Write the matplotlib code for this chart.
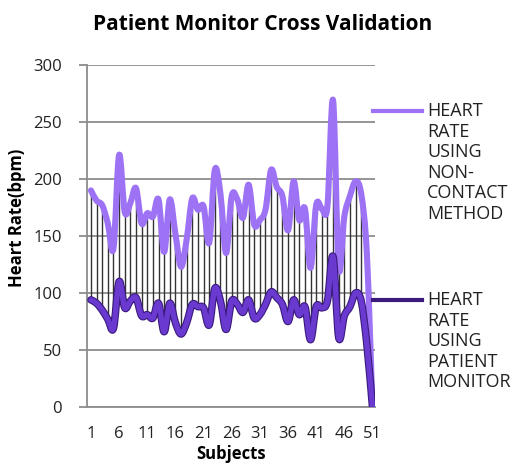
import matplotlib
matplotlib.use('Agg')
import matplotlib.pyplot as plt
import matplotlib.patheffects as pe
from matplotlib.path import Path
from matplotlib.patches import PathPatch
from matplotlib.lines import Line2D
import numpy as np

# Data
subjects = list(range(1, 52))
non_contact = [190, 181, 177, 161, 139, 221, 171, 179, 192, 161,
               170, 167, 182, 136, 182, 152, 123, 147, 183, 173,
               176, 144, 208, 187, 135, 185, 182, 166, 195, 160,
               164, 173, 208, 193, 185, 155, 198, 164, 174, 122,
               177, 174, 176, 269, 122, 167, 185, 198, 187, 135,
               0]
patient_monitor = [94, 91, 85, 77, 69, 110, 87, 93, 96, 80,
                   81, 78, 91, 66, 91, 74, 64, 74, 90, 88,
                   87, 72, 104, 93, 68, 93, 90, 83, 94, 78,
                   81, 90, 101, 96, 90, 75, 94, 81, 88, 59,
                   88, 87, 93, 132, 61, 80, 88, 100, 93, 55,
                   0]
xtick_labels = [str(s) for s in subjects[::5]]

light = '#9d72f4'
dark = '#6a3ad0'
dark_edge = '#3b1a7c'
grid_grey = '#8c8c8c'

plt.rcParams['font.family'] = ['Open Sans', 'DejaVu Sans']


def smooth_path(x, y):
    # Excel style smoothed line: cubic bezier through every point
    n = len(x)
    verts = [(x[0], y[0])]
    codes = [Path.MOVETO]
    for i in range(n - 1):
        a = i - 1 if i > 0 else i
        b = i + 2 if i + 2 < n else i + 1
        c1 = (x[i] + (x[i + 1] - x[a]) / 6.0, y[i] + (y[i + 1] - y[a]) / 6.0)
        c2 = (x[i + 1] - (x[b] - x[i]) / 6.0, y[i + 1] - (y[b] - y[i]) / 6.0)
        verts += [c1, c2, (x[i + 1], y[i + 1])]
        codes += [Path.CURVE4] * 3
    return Path(verts, codes)


fig = plt.figure(figsize=(5.26, 4.68), dpi=100)
ax = fig.add_axes([87 / 526, 1 - 407 / 468, (375 - 87) / 526, (407 - 65) / 468])

x = np.array(subjects, dtype=float)
# high-low lines
ax.vlines(x, patient_monitor, non_contact, colors='#333333', linewidth=1.0, zorder=2)

p1 = PathPatch(smooth_path(x, non_contact), fill=False, edgecolor=light,
               linewidth=4.4, capstyle='round', joinstyle='round', zorder=3)
ax.add_patch(p1)
p2 = PathPatch(smooth_path(x, patient_monitor), fill=False, edgecolor=dark,
               linewidth=3.8, capstyle='round', joinstyle='round', zorder=4)
p2.set_path_effects([pe.Stroke(linewidth=5.4, foreground=dark_edge), pe.Normal()])
ax.add_patch(p2)

ax.set_xlim(0.3, 51.45)
ax.set_ylim(0, 300)
ax.set_yticks(range(0, 301, 50))
ax.set_xticks(subjects[::5])
ax.set_xticklabels(xtick_labels)
ax.yaxis.grid(True, color=grid_grey, linewidth=1.3)
ax.set_axisbelow(True)
for s in ['top', 'right']:
    ax.spines[s].set_visible(False)
for s in ['left', 'bottom']:
    ax.spines[s].set_color(grid_grey)
    ax.spines[s].set_linewidth(1.3)
ax.tick_params(axis='y', direction='out', length=6, color=grid_grey, width=1.3,
               labelsize=12, pad=12, labelcolor='#222222')
ax.tick_params(axis='x', length=0, labelsize=12, pad=14, labelcolor='#222222')

ax.set_xlabel('Subjects', fontsize=12, fontweight='bold', labelpad=2)
fig.text(17 / 526, 1 - 218 / 468, 'Heart Rate(bpm)', rotation=90, ha='center', va='center',
         fontsize=12, fontweight='bold', family=['Liberation Sans Narrow', 'Open Sans'])
fig.text(263 / 526, 1 - 24 / 468, 'Patient Monitor Cross Validation', ha='center', va='center',
         fontsize=15, fontweight='bold')

# legend drawn at the right like the original
legend_items = [(111, light, 'HEART\nRATE\nUSING\nNON-\nCONTACT\nMETHOD'),
                (300, dark_edge, 'HEART\nRATE\nUSING\nPATIENT\nMONITOR')]
for ypix, col, label in legend_items:
    yf = 1 - ypix / 468
    fig.add_artist(Line2D([373 / 526, 422 / 526], [yf, yf], color=col, linewidth=3,
                          transform=fig.transFigure))
    fig.text(427 / 526, yf + 9 / 468, label, ha='left', va='top', fontsize=13,
             linespacing=1.18, color='#222222')

fig.savefig('out.png', dpi=100)
